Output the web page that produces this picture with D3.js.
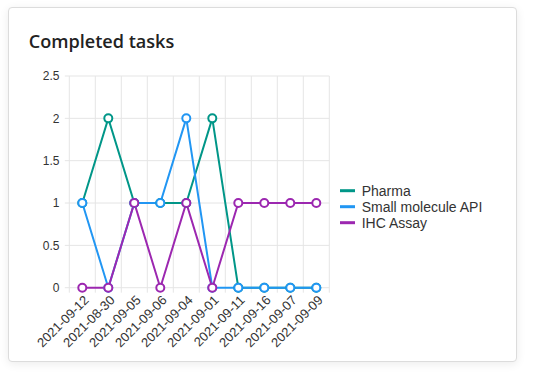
<!DOCTYPE html>
<html><head><meta charset="utf-8">
<script src="https://cdn.jsdelivr.net/npm/d3@7"></script>
<style>
body{margin:0;background:#fff;width:535px;height:392px;overflow:hidden;position:relative;}
#card{position:absolute;left:8px;top:7px;width:507px;height:353px;border:1px solid #dcdcdc;border-radius:4px;box-shadow:0 2px 10px rgba(0,0,0,0.08);background:#fff;}
svg{position:absolute;left:0;top:0;}
</style></head>
<body><div id="card"></div><svg id="chart" width="535" height="392"></svg>
<script>
const categories=["2021-09-12","2021-08-30","2021-09-05","2021-09-06","2021-09-04","2021-09-01","2021-09-11","2021-09-16","2021-09-07","2021-09-09"];
const pharma=[1,2,1,1,1,2,0,0,0,0];
const smallMolecule=[1,0,1,1,2,0,0,0,0,0];
const ihcAssay=[0,0,1,0,1,0,1,1,1,1];
const seriesNames=["Pharma","Small molecule API","IHC Assay"];
const seriesColors=["#009688","#2196F3","#9C27B0"];
const yTicks=[0,0.5,1,1.5,2,2.5];
const series=[pharma,smallMolecule,ihcAssay];

const svg=d3.select("#chart");
const L=69.3,R=329.3,T=76,B=287.7;
const x=d3.scaleBand().domain(categories).range([L,R]);
const y=d3.scaleLinear().domain([0,2.5]).range([B,T]);

// title
const title=svg.append("text").attr("x",28.7).attr("y",48.3)
  .attr("font-family","'Open Sans',sans-serif").attr("font-weight",600)
  .attr("font-size",20).attr("fill","#222").text("Completed tasks");
const w=title.node().getComputedTextLength();
title.attr("font-size",20*145.6/w);

// grid
const g=svg.append("g");
const edges=categories.map(c=>x(c)).concat([R]);
g.selectAll("line.v").data(edges).join("line")
  .attr("x1",d=>d).attr("x2",d=>d).attr("y1",T).attr("y2",B+5)
  .attr("stroke","#e5e5e5").attr("stroke-width",1);
g.selectAll("line.h").data(yTicks).join("line").attr("class","h")
  .attr("x1",L-4.5).attr("x2",R).attr("y1",d=>y(d)).attr("y2",d=>y(d))
  .attr("stroke","#e5e5e5").attr("stroke-width",1);

// y labels
svg.append("g").selectAll("text").data(yTicks).join("text")
  .attr("x",59.5).attr("y",d=>y(d)).attr("dy","0.35em").attr("text-anchor","end")
  .attr("font-family","'Liberation Sans',Arial,sans-serif").attr("font-size",12).attr("fill","#333")
  .text(d=>d3.format("")(d));

// x labels
svg.append("g").selectAll("text").data(categories).join("text")
  .attr("transform",d=>`translate(${x(d)+x.bandwidth()/2+4},${B+10}) rotate(-45)`)
  .attr("text-anchor","end").attr("dy","0.35em")
  .attr("font-family","'Liberation Sans',Arial,sans-serif").attr("font-size",13).attr("fill","#333")
  .text(d=>d);

// lines
const cx=c=>x(c)+x.bandwidth()/2;
series.forEach((s,i)=>{
  const line=d3.line().x((d,j)=>cx(categories[j])).y(d=>y(d));
  svg.append("path").datum(s).attr("d",line).attr("fill","none")
    .attr("stroke",seriesColors[i]).attr("stroke-width",2);
});
series.forEach((s,i)=>{
  svg.append("g").selectAll("circle").data(s).join("circle")
    .attr("cx",(d,j)=>cx(categories[j])).attr("cy",d=>y(d)).attr("r",4)
    .attr("fill","#fff").attr("stroke",seriesColors[i]).attr("stroke-width",2);
});

// legend
const lg=svg.append("g");
seriesNames.forEach((n,i)=>{
  const yy=190.7+i*16;
  lg.append("line").attr("x1",340).attr("x2",355).attr("y1",yy).attr("y2",yy)
    .attr("stroke",seriesColors[i]).attr("stroke-width",3);
  lg.append("text").attr("x",361.7).attr("y",yy).attr("dy","0.35em")
    .attr("font-family","'Liberation Sans',Arial,sans-serif").attr("font-size",14).attr("fill","#333").text(n);
});
</script></body></html>
